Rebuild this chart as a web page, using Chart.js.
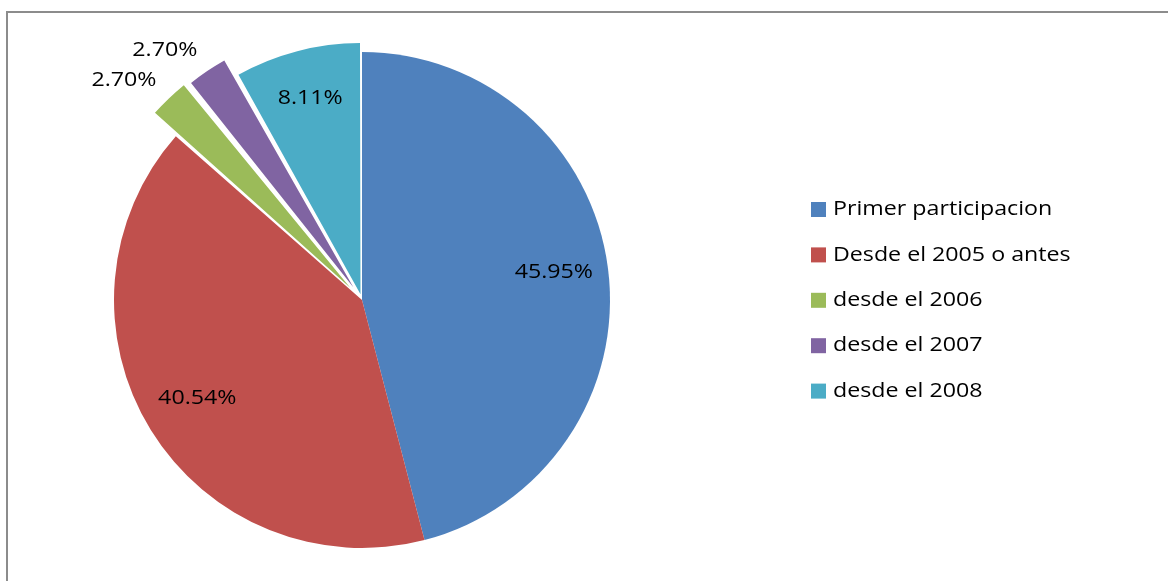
<!DOCTYPE html>
<html>
<head>
<meta charset="utf-8">
<script src="https://cdn.jsdelivr.net/npm/chart.js@4/dist/chart.umd.min.js"></script>
<style>
  html, body { margin: 0; padding: 0; background: #fff; }
  #wrap { position: relative; width: 1168px; height: 581px; }
</style>
</head>
<body>
<div id="wrap"><canvas id="pieChart" width="1168" height="581"></canvas></div>
<script>
// categories and counts (17/37 = 45.95%, etc.)
const categories = ['Primer participacion', 'Desde el 2005 o antes', 'desde el 2006', 'desde el 2007', 'desde el 2008'];
const counts = [17, 15, 1, 1, 3];
const colors = ['#4F81BD', '#C0504D', '#9BBB59', '#8064A2', '#4BACC6'];
// how far each slice is pulled out, in pixels
const explode = [0, 0, 34, 31, 12];

const FONT = '"Open Sans", Lato, sans-serif';
const total = counts.reduce((a, b) => a + b, 0);

// the original text is a bit wider than Open Sans, so stretch it a little
function wideText(ctx, text, x, y) {
    ctx.save();
    ctx.translate(x, y);
    ctx.scale(1.16, 1);
    ctx.fillText(text, 0, 0);
    ctx.restore();
}

// frame, labels and legend drawn on the same canvas
const decorations = {
    id: 'decorations',
    beforeDraw(chart) {
        const ctx = chart.ctx;
        ctx.save();
        ctx.strokeStyle = '#8c8c8c';
        ctx.lineWidth = 2;
        ctx.beginPath();
        ctx.moveTo(7, 600);
        ctx.lineTo(7, 12);
        ctx.lineTo(1200, 12);
        ctx.stroke();
        ctx.restore();
    },
    afterDraw(chart) {
        const ctx = chart.ctx;
        const arcs = chart.getDatasetMeta(0).data;
        ctx.save();
        ctx.font = '20px ' + FONT;
        ctx.fillStyle = '#000';
        arcs.forEach((arc, i) => {
            const p = arc.getProps(['x', 'y', 'startAngle', 'endAngle', 'outerRadius'], true);
            const mid = (p.startAngle + p.endAngle) / 2;
            const pct = counts[i] / total;
            const text = (pct * 100).toFixed(2) + '%';
            if (pct < 0.05) {
                // outside label, its bottom-right corner points at the slice
                const r = p.outerRadius + explode[i] + 15;
                ctx.textAlign = 'right';
                ctx.textBaseline = 'alphabetic';
                wideText(ctx, text, p.x + Math.cos(mid) * r, p.y + Math.sin(mid) * r);
            } else {
                const r = p.outerRadius * 0.78 + explode[i];
                ctx.textAlign = 'center';
                ctx.textBaseline = 'middle';
                wideText(ctx, text, p.x + Math.cos(mid) * r, p.y + Math.sin(mid) * r - 3);
            }
        });

        // legend
        ctx.textAlign = 'left';
        ctx.textBaseline = 'middle';
        categories.forEach((c, i) => {
            const y = 209.5 + i * 45.4;
            ctx.fillStyle = colors[i];
            ctx.fillRect(811, y - 7.5, 15, 15);
            ctx.fillStyle = '#000';
            wideText(ctx, c, 833, y);
        });
        ctx.restore();
    }
};

new Chart(document.getElementById('pieChart').getContext('2d'), {
    type: 'pie',
    data: {
        labels: categories,
        datasets: [{
            data: counts,
            backgroundColor: colors,
            borderWidth: 0,
            // Chart.js moves an arc by half its offset value
            offset: explode.map(v => v * 2),
            radius: 248
        }]
    },
    options: {
        responsive: false,
        animation: false,
        layout: { padding: { left: 0, right: 444, top: 19, bottom: 0 } },
        plugins: {
            legend: { display: false },
            tooltip: { enabled: false }
        }
    },
    plugins: [decorations]
});
</script>
</body>
</html>
